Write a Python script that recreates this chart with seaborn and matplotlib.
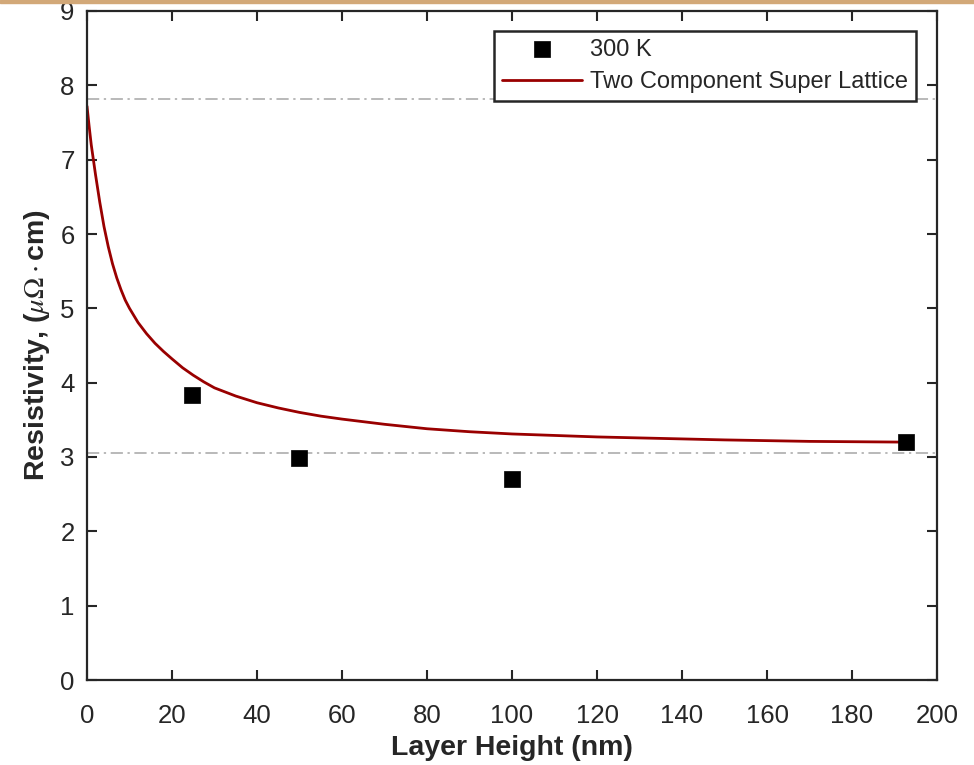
import matplotlib
matplotlib.use("Agg")
import matplotlib.pyplot as plt
import seaborn as sns
import pandas as pd
from matplotlib.patches import Rectangle

# Measured data (300 K)
layer_height = [24.6, 49.9, 99.9, 192.8]
resistivity = [3.84, 2.98, 2.70, 3.20]

# Two component super lattice model curve
model_height = [0, 0.5, 1, 1.5, 2, 3, 4, 5, 6, 7, 8, 9, 10, 12, 14, 16, 18, 20, 22.5, 25,
                27.5, 30, 35, 40, 45, 50, 55, 60, 70, 80, 90, 100, 110, 120, 135, 150,
                170, 193]
model_rho = [7.72, 7.45, 7.20, 7.00, 6.80, 6.43, 6.10, 5.83, 5.60, 5.41, 5.25, 5.11, 5.00,
             4.81, 4.66, 4.53, 4.42, 4.32, 4.20, 4.10, 4.01, 3.93, 3.82, 3.73, 3.66, 3.60,
             3.55, 3.51, 3.44, 3.38, 3.34, 3.31, 3.29, 3.27, 3.25, 3.23, 3.21, 3.20]

# Reference levels (dash-dot lines)
ref_levels = [7.82, 3.05]

x_ticks = [0, 20, 40, 60, 80, 100, 120, 140, 160, 180, 200]
y_ticks = [0, 1, 2, 3, 4, 5, 6, 7, 8, 9]

sns.set_theme(style="white")
plt.rcParams['font.family'] = ['Liberation Sans', 'DejaVu Sans']
plt.rcParams['mathtext.fontset'] = 'stix'

fig = plt.figure(figsize=(9.74, 7.65), dpi=100)
ax = fig.add_axes([87/974, 1-680/765, 850/974, 669/765])

df_model = pd.DataFrame({"h": model_height, "rho": model_rho})
df_data = pd.DataFrame({"h": layer_height, "rho": resistivity})

for lvl in ref_levels:
    ax.axhline(lvl, color="#a6a6a6", lw=1.1, ls=(0, (8, 3, 1.5, 3)), zorder=1)

sns.lineplot(data=df_model, x="h", y="rho", ax=ax, color="#990000", lw=2.0,
             label="Two Component Super Lattice", zorder=2, sort=False)
sns.scatterplot(data=df_data, x="h", y="rho", ax=ax, marker="s", s=125, color="black",
                edgecolor="black", linewidth=0.5, label="300 K", zorder=3)

ax.set_xlim(0, 200)
ax.set_ylim(0, 9)
ax.set_xticks(x_ticks)
ax.set_yticks(y_ticks)

txt = "#262626"
ax.tick_params(direction="in", length=7, width=1.5, colors=txt, labelsize=18.5,
               top=True, right=True, bottom=True, left=True)
ax.tick_params(axis="x", pad=17)
ax.tick_params(axis="y", pad=9)
for s in ax.spines.values():
    s.set_color(txt)
    s.set_linewidth(1.6)

ax.set_xlabel("Layer Height (nm)", fontsize=20.5, fontweight="bold", color=txt, labelpad=5)
ax.set_ylabel(r"Resistivity, ($\mu\Omega\cdot$cm)", fontsize=20.5, fontweight="bold",
              color=txt, labelpad=6)

handles, labels = ax.get_legend_handles_labels()
order = [labels.index("300 K"), labels.index("Two Component Super Lattice")]
leg = ax.legend([handles[i] for i in order], [labels[i] for i in order],
                loc="upper right", bbox_to_anchor=(0.975, 0.970), borderaxespad=0,
                fontsize=17, frameon=True, fancybox=False, framealpha=1,
                edgecolor=txt, handlelength=3.4, labelspacing=0.45,
                borderpad=0.32, handletextpad=0.35)
leg.get_frame().set_linewidth(1.8)
for t in leg.get_texts():
    t.set_color(txt)

# top decorative border from the screenshot
fig.patches.append(Rectangle((0, 1-3/765), 1, 3/765, transform=fig.transFigure,
                             color="#d2a878", zorder=10))

fig.savefig("out.png", dpi=100)
